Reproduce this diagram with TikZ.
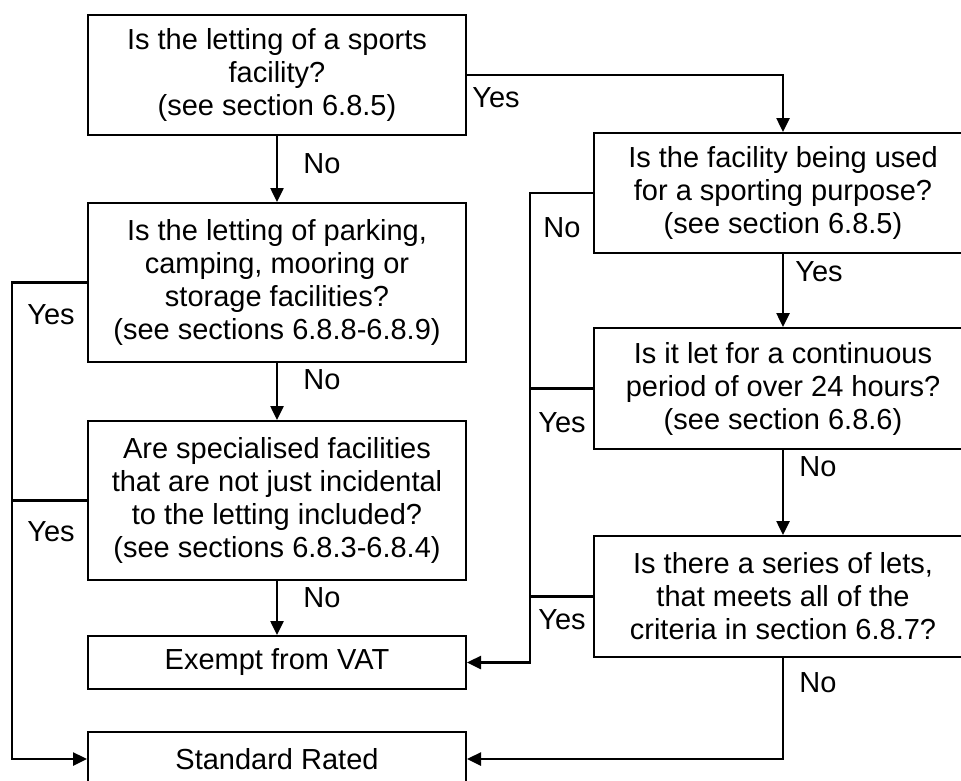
\documentclass[tikz,border=0pt]{standalone}
\usepackage{fontspec}
\setmainfont{Liberation Sans}
\usetikzlibrary{arrows.meta}
\begin{document}
\begin{tikzpicture}[x=1pt,y=-1pt,
  every node/.style={font=\fontsize{29}{33}\selectfont},
  box/.style={draw, line width=2pt, align=center, inner sep=0pt, minimum width=378pt},
  lbl/.style={inner sep=0pt},
  link/.style={line width=2.5pt},
  flow/.style={link, -{Triangle[length=14pt,width=13pt]}}]
\useasboundingbox (0,0) rectangle (961,780);
\clip (0,0) rectangle (961,780);

% left column of questions and outcomes
\node[box, minimum height=120pt] (q1) at (277,75)
  {Is the letting of a sports\\facility?\\(see section 6.8.5)};
\node[box, minimum height=159pt] (q2) at (277,282.5)
  {Is the letting of parking,\\camping, mooring or\\storage facilities?\\(see sections 6.8.8-6.8.9)};
\node[box, minimum height=159pt] (q3) at (277,500.5)
  {Are specialised facilities\\that are not just incidental\\to the letting included?\\(see sections 6.8.3-6.8.4)};
\node[box, minimum height=53pt] (ex) at (277,662.5) {Exempt from VAT};
\node[box, minimum height=54pt] (std) at (277,759) {Standard Rated};

% right column of questions
\node[box, minimum height=120pt] (q4) at (783,193)
  {Is the facility being used\\for a sporting purpose?\\(see section 6.8.5)};
\node[box, minimum height=121pt] (q5) at (783,388.5)
  {Is it let for a continuous\\period of over 24 hours?\\(see section 6.8.6)};
\node[box, minimum height=121pt] (q6) at (783,596.5)
  {Is there a series of lets,\\that meets all of the\\criteria in section 6.8.7?};

% vertical collector lines
\coordinate (lbus) at (12,0);
\coordinate (rbus) at (530,0);

% connectors
\draw[flow] (q1.south) -- (q2.north);
\draw[flow] (q2.south) -- (q3.north);
\draw[flow] (q3.south) -- (ex.north);
\draw[flow] (q1.east) -| (q4.north);
\draw[flow] (q4.south) -- (q5.north);
\draw[flow] (q5.south) -- (q6.north);
\draw[flow] (q6.south) |- (std.east);

\draw[flow] (q2.west) -- (q2.west -| lbus) |- (std.west);
\draw[link] (q3.west) -- (q3.west -| lbus);
\draw[flow] (q4.west) -- (q4.west -| rbus) |- (ex.east);
\draw[link] (q5.west) -- (q5.west -| rbus);
\draw[link] (q6.west) -- (q6.west -| rbus);

% answer labels
\node[lbl] (n1) at (322,164) {No};
\node[lbl] (y1) at (496,98) {Yes};
\node[lbl] (n2) at (322,380) {No};
\node[lbl] (y2) at (51,315) {Yes};
\node[lbl] (n3) at (322,598) {No};
\node[lbl] (y3) at (51,532) {Yes};
\node[lbl] (n4) at (562,228) {No};
\node[lbl] (y4) at (819,272) {Yes};
\node[lbl] (y5) at (562,423) {Yes};
\node[lbl] (n5) at (818,467) {No};
\node[lbl] (y6) at (562,620) {Yes};
\node[lbl] (n6) at (818,683) {No};
\end{tikzpicture}
\end{document}
